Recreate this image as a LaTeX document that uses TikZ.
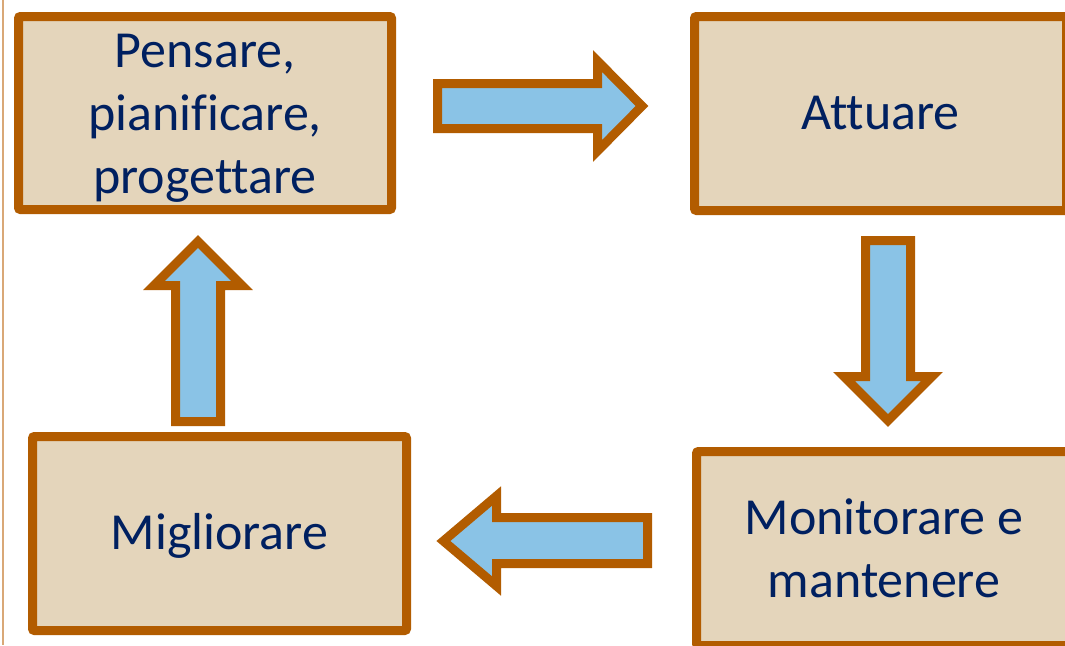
\documentclass[tikz,border=0pt]{standalone}
\usepackage{fontspec}
\setmainfont{Carlito}[Ligatures={NoCommon}]
\definecolor{brd}{HTML}{B25C00}
\definecolor{boxfill}{HTML}{E4D5BB}
\definecolor{arrfill}{HTML}{8AC3E6}
\definecolor{txt}{HTML}{002060}
\definecolor{frame}{HTML}{D9A877}
\tikzset{
  stepbox/.style={draw=brd, fill=boxfill, line width=9pt, rounded corners=2pt,
    inner sep=0pt, align=center, text=txt, font=\fontsize{52}{63}\selectfont},
  blockarrow/.style={draw=brd, fill=arrfill, line width=9pt, line join=miter}
}
\begin{document}
\begin{tikzpicture}[x=1pt,y=-1pt]
\useasboundingbox (0,0) rectangle (1065,645);
\clip (0,0) rectangle (1065,645);
\fill[white] (0,0) rectangle (1065,645);
\draw[frame, line width=2pt] (3,0) -- (3,645);
% boxes
\node[stepbox, minimum width=373pt, minimum height=193pt] (plan) at (205,113) {\rule{0pt}{44pt}Pensare,\\pianificare,\\progettare};
\node[stepbox, minimum width=372pt, minimum height=194pt] (do) at (880.5,113.5) {Attuare};
\node[stepbox, minimum width=375pt, minimum height=194pt] (check) at (884,548.5) {Monitorare e\\mantenere};
\node[stepbox, minimum width=374pt, minimum height=194pt] (act) at (219.5,533.5) {\rule{0pt}{40pt}Migliorare};
% block arrows
\draw[blockarrow] (437.5,83.5) -- (597.5,83.5) -- (597.5,61) -- (642,106) -- (597.5,151) -- (597.5,128.5) -- (437.5,128.5) -- cycle;
\draw[blockarrow] (865.5,240.5) -- (910.5,240.5) -- (910.5,376.5) -- (932,376.5) -- (888,420.6) -- (844,376.5) -- (865.5,376.5) -- cycle;
\draw[blockarrow] (647.5,517.5) -- (647.5,563.5) -- (496.5,563.5) -- (496.5,586) -- (443.4,541) -- (496.5,496) -- (496.5,517.5) -- cycle;
\draw[blockarrow] (175.5,421.5) -- (220.5,421.5) -- (220.5,285.5) -- (242,285.5) -- (198,241.4) -- (154,285.5) -- (175.5,285.5) -- cycle;
\end{tikzpicture}
\end{document}
